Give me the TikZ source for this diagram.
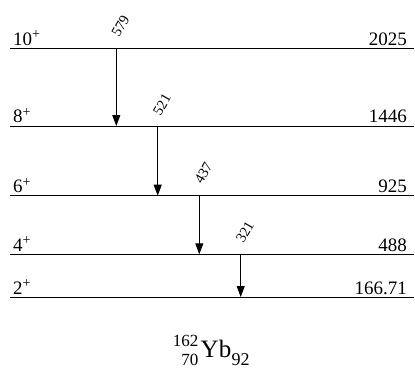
\documentclass[tikz,border=0pt]{standalone}
\usepackage{fontspec}
\setmainfont{Liberation Serif}
\usetikzlibrary{arrows.meta}
\newcommand{\plussup}{{\fontsize{14}{14}\selectfont\raisebox{6.5pt}{+}}}
\begin{document}
\begin{tikzpicture}[x=1pt,y=-1pt,
  level/.style={line width=0.9pt},
  trans/.style={line width=0.9pt,-{Triangle[width=8pt,length=11pt]}},
  spin/.style={anchor=base west,inner sep=0pt,font=\fontsize{19}{19}\selectfont},
  energy/.style={anchor=base east,inner sep=0pt,font=\fontsize{19}{19}\selectfont},
  gam/.style={inner sep=0pt,rotate=60,font=\fontsize{14.5}{14.5}\selectfont}]
\useasboundingbox (0,0) rectangle (415,373);
% levels
\foreach \n/\y in {10/48.3,8/126,6/195.7,4/254.3,2/297}{
  \coordinate (L\n a) at (10,\y);
  \coordinate (L\n b) at (414,\y);
  \draw[level] (L\n a) -- (L\n b);
}
% spin labels
\node[spin] (s10) at (13,45) {10\plussup};
\node[spin] (s8) at (13,122.5) {8\plussup};
\node[spin] (s6) at (13,192.5) {6\plussup};
\node[spin] (s4) at (13,251) {4\plussup};
\node[spin] (s2) at (13,294) {2\plussup};
% energies
\node[energy] (e10) at (407,45) {2025};
\node[energy] (e8) at (407,122.5) {1446};
\node[energy] (e6) at (407,192.5) {925};
\node[energy] (e4) at (407,251) {488};
\node[energy] (e2) at (407,294) {166.71};
% transitions
\coordinate (t1a) at (116.3,48.3); \coordinate (t1b) at (116.3,126);
\coordinate (t2a) at (157.7,126);  \coordinate (t2b) at (157.7,195.7);
\coordinate (t3a) at (199.3,195.7);\coordinate (t3b) at (199.3,254.3);
\coordinate (t4a) at (240.7,254.3);\coordinate (t4b) at (240.7,297);
\draw[trans] (t1a) -- (t1b);
\draw[trans] (t2a) -- (t2b);
\draw[trans] (t3a) -- (t3b);
\draw[trans] (t4a) -- (t4b);
\node[gam] (g1) at (120.5,26) {579};
\node[gam] (g2) at (162,104.5) {521};
\node[gam] (g3) at (203.5,173) {437};
\node[gam] (g4) at (245,232) {321};
% nucleus label
\node[anchor=base east,inner sep=0pt,font=\fontsize{17}{17}\selectfont] (A) at (198.5,346.5) {162};
\node[anchor=base east,inner sep=0pt,font=\fontsize{17}{17}\selectfont] (Z) at (198.5,365) {70};
\node[anchor=base west,inner sep=0pt,font=\fontsize{25}{25}\selectfont] (Yb) at (200.5,357.3) {Yb};
\node[anchor=base west,inner sep=0pt,font=\fontsize{18}{18}\selectfont] (N) at (Yb.base east) [yshift=-7.7pt] {92};
\end{tikzpicture}
\end{document}
